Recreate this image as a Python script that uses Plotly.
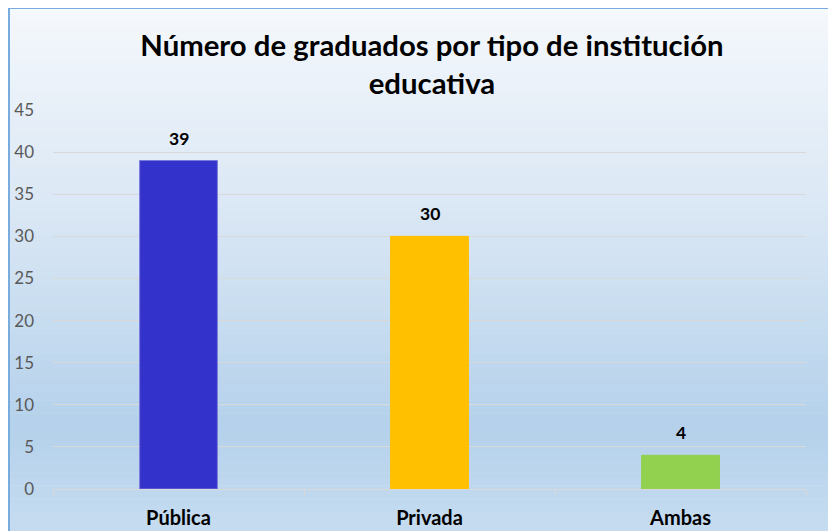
import plotly.graph_objects as go

# data
categories = ['Pública', 'Privada', 'Ambas']
graduados = [39, 30, 4]
bar_colors = ['#3333cc', '#ffc000', '#92d050']
bar_edges = ['#7b7bdc', '#ffc000', '#92d050']
y_ticks = list(range(0, 50, 5))

# the page body adds an 8px white margin, which stands in for the white strip
# on the top and left of the reference
W, H = 828, 523
L, R, T, B = 45, 30, 102, 42
pw, ph = W - L - R, H - T - B


def px_x(x):
    return (x - L) / pw


def px_y(y):
    return (H - B - y) / ph


def mix(c1, c2, t):
    return '#%02x%02x%02x' % tuple(round(a + (b - a) * t) for a, b in zip(c1, c2))


fig = go.Figure(data=[
    go.Bar(
        x=categories,
        y=graduados,
        marker=dict(color=bar_colors, line=dict(width=1, color=bar_edges)),
        width=0.31,
        hoverinfo='x+y',
    )
])

# gradient background for the chart area (Excel style)
stops = [(0.0, (245, 248, 252)), (0.45, (213, 228, 243)), (0.8, (180, 209, 235)), (1.0, (198, 220, 240))]
n = 80
shapes = []
for i in range(n):
    t = (i + 0.5) / n
    for (p0, c0), (p1, c1) in zip(stops, stops[1:]):
        if p0 <= t <= p1:
            col = mix(c0, c1, (t - p0) / (p1 - p0))
            break
    y0 = H * i / n
    y1 = H * (i + 1) / n
    shapes.append(dict(type='rect', xref='paper', yref='paper', layer='below',
                       x0=px_x(0), x1=px_x(W + 2), y0=px_y(y1 + 0.5), y1=px_y(y0),
                       fillcolor=col, line=dict(width=0)))
# frame lines on the left and top
shapes.append(dict(type='line', xref='paper', yref='paper', layer='below',
                   x0=px_x(1), x1=px_x(1), y0=px_y(H + 2), y1=px_y(0),
                   line=dict(color='#78acde', width=2)))
shapes.append(dict(type='line', xref='paper', yref='paper', layer='below',
                   x0=px_x(0), x1=px_x(W + 2), y0=px_y(0), y1=px_y(0),
                   line=dict(color='#78acde', width=2)))

annotations = [
    dict(x=c, y=v, text='<b>%d</b>' % v, showarrow=False, yanchor='bottom', yshift=10,
         font=dict(family='Lato', size=17.5, color='#000000'))
    for c, v in zip(categories, graduados)
]

fig.update_layout(
    width=W, height=H,
    margin=dict(l=L, r=R, t=T, b=B),
    paper_bgcolor='white',
    plot_bgcolor='rgba(0,0,0,0)',
    shapes=shapes,
    annotations=annotations,
    showlegend=False,
    title=dict(
        text='<b>Número de graduados por tipo de institución<br>educativa</b>',
        x=0.512, xanchor='center', y=0.909, yanchor='top',
        font=dict(family='Lato', size=29.3, color='#000000'),
    ),
    xaxis=dict(
        automargin=False,
        showline=True, linecolor='#d9d9d9', linewidth=1,
        ticks='outside', tickson='boundaries', ticklen=6, tickcolor='#d9d9d9',
        showgrid=False,
        tickfont=dict(family='Lato', size=20, color='#000000', weight='bold'),
        ticklabelstandoff=11,
    ),
    yaxis=dict(
        automargin=False,
        range=[0, 45], tickvals=y_ticks,
        showgrid=True, gridcolor='#d9d9d9', gridwidth=1,
        zeroline=False, showline=False,
        tickfont=dict(family='Lato', size=17, color='#595959'),
        ticklabelstandoff=18,
    ),
)

fig.write_html('out.html')
